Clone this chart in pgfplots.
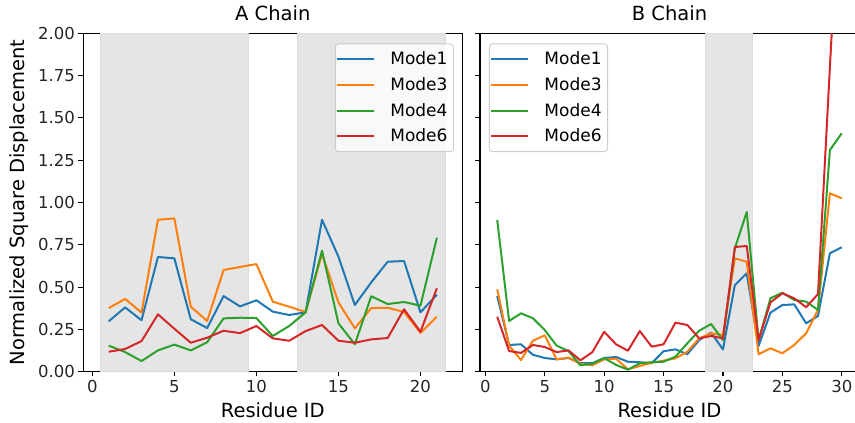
\documentclass[border=0pt]{standalone}
\usepackage{fontspec}
\setmainfont{DejaVu Sans}
\usepackage{pgfplots}
\usepackage{pgfplotstable}
\pgfplotsset{compat=1.18}
\definecolor{c1}{HTML}{1F77B4}
\definecolor{c3}{HTML}{FF7F0E}
\definecolor{c4}{HTML}{2CA02C}
\definecolor{c6}{HTML}{D62728}

\pgfplotstableread{
x m1 m3 m4 m6
1 0.298 0.376 0.154 0.118
2 0.380 0.430 0.116 0.134
3 0.304 0.349 0.063 0.181
4 0.678 0.898 0.126 0.339
5 0.670 0.906 0.160 0.254
6 0.310 0.384 0.126 0.171
7 0.258 0.300 0.174 0.201
8 0.447 0.601 0.315 0.242
9 0.386 0.619 0.319 0.228
10 0.422 0.636 0.317 0.270
11 0.355 0.414 0.211 0.197
12 0.335 0.384 0.270 0.183
13 0.351 0.353 0.351 0.240
14 0.898 0.696 0.715 0.276
15 0.680 0.410 0.286 0.183
16 0.394 0.256 0.162 0.171
17 0.528 0.376 0.446 0.191
18 0.650 0.378 0.400 0.199
19 0.654 0.353 0.412 0.369
20 0.351 0.229 0.390 0.236
21 0.455 0.325 0.792 0.493
}\chainA

\pgfplotstableread{
x m1 m3 m4 m6
1 0.447 0.487 0.897 0.325
2 0.158 0.154 0.300 0.122
3 0.162 0.069 0.345 0.111
4 0.100 0.183 0.316 0.158
5 0.081 0.215 0.246 0.146
6 0.073 0.073 0.154 0.116
7 0.081 0.083 0.122 0.126
8 0.050 0.046 0.038 0.067
9 0.050 0.038 0.047 0.115
10 0.081 0.073 0.081 0.236
11 0.087 0.077 0.040 0.162
12 0.059 0.014 0.012 0.124
13 0.056 0.034 0.050 0.240
14 0.050 0.053 0.056 0.148
15 0.121 0.065 0.059 0.162
16 0.132 0.079 0.089 0.290
17 0.103 0.118 0.168 0.276
18 0.187 0.197 0.242 0.197
19 0.231 0.227 0.282 0.211
20 0.132 0.217 0.187 0.197
21 0.512 0.670 0.729 0.737
22 0.581 0.650 0.944 0.743
23 0.152 0.103 0.187 0.187
24 0.349 0.138 0.434 0.410
25 0.394 0.109 0.467 0.463
26 0.398 0.158 0.424 0.434
27 0.286 0.227 0.414 0.381
28 0.329 0.365 0.365 0.459
29 0.700 1.054 1.310 1.800
30 0.735 1.025 1.409 3.100
}\chainB

\pgfplotsset{
  chainstyle/.style={
    scale only axis, width=379pt, height=338.4pt,
    ymin=0, ymax=2,
    ytick={0,0.25,0.5,0.75,1,1.25,1.5,1.75,2},
    axis line style={black, line width=1.1pt},
    tick align=outside, xtick pos=left, ytick pos=left,
    major tick length=4.8pt,
    tick style={black, line width=1.1pt},
    /pgf/number format/assume math mode=true,
    every tick label/.append style={font=\fontsize{16.5}{19.8}\selectfont, text=black!85},
    yticklabel style={/pgf/number format/fixed, /pgf/number format/fixed zerofill, /pgf/number format/precision=2},
    title style={font=\fontsize{19.5}{23}\selectfont, at={(axis description cs:0.5,1)}, anchor=base, yshift=6.6pt},
    xlabel style={font=\fontsize{19.5}{23}\selectfont, at={(axis description cs:0.5,-0.1368)}, anchor=base},
    ylabel style={font=\fontsize{19.5}{23}\selectfont, at={(axis description cs:-0.1546,0.5)}, anchor=base},
    legend style={font=\fontsize{17}{20}\selectfont, draw=black!20, rounded corners=3pt, fill=white, fill opacity=0.8, text opacity=1, draw opacity=1, line width=0.9pt,
      inner xsep=1pt, inner ysep=4pt, row sep=2.7pt, column sep=10pt,
      nodes={inner xsep=5pt, inner ysep=4pt, text depth=2pt}},
    legend cell align=left,
    legend image code/.code={\draw[#1, line width=2pt] (0pt,0pt) -- (37pt,0pt);},
    every axis plot/.append style={line width=2pt, line join=round},
    clip=true,
  },
  span/.style={fill=black!10, draw=black!14, line width=0.7pt, forget plot},
}

\begin{document}
\begin{tikzpicture}
\begin{axis}[chainstyle, at={(83.3pt,51.3pt)}, anchor=south west,
  xmin=-0.55, xmax=22.55, xtick={0,5,10,15,20},
  title={A Chain}, xlabel={Residue ID}, ylabel={Normalized Square Displacement},
  legend style={at={(axis description cs:0.978,0.970)}, anchor=north east}]
  \addplot[span] coordinates {(0.5,0) (0.5,2) (9.5,2) (9.5,0)} --cycle;
  \addplot[span] coordinates {(12.5,0) (12.5,2) (21.5,2) (21.5,0)} --cycle;
  \addplot[c1] table[x=x, y=m1] {\chainA};
  \addplot[c3] table[x=x, y=m3] {\chainA};
  \addplot[c4] table[x=x, y=m4] {\chainA};
  \addplot[c6] table[x=x, y=m6] {\chainA};
  \legend{Mode1,Mode3,Mode4,Mode6}
\end{axis}
\begin{axis}[chainstyle, at={(480pt,51.3pt)}, anchor=south west,
  xmin=-0.45, xmax=31.45, xtick={0,5,10,15,20,25,30},
  yticklabel={\mbox{}},
  title={B Chain}, xlabel={Residue ID},
  legend style={at={(axis description cs:0.0237,0.970)}, anchor=north west}]
  \addplot[span] coordinates {(18.5,0) (18.5,2) (22.5,2) (22.5,0)} --cycle;
  \addplot[c1] table[x=x, y=m1] {\chainB};
  \addplot[c3] table[x=x, y=m3] {\chainB};
  \addplot[c4] table[x=x, y=m4] {\chainB};
  \addplot[c6] table[x=x, y=m6] {\chainB};
  \legend{Mode1,Mode3,Mode4,Mode6}
\end{axis}
\pgfresetboundingbox
\useasboundingbox (0,0) rectangle (855pt,423pt);
\end{tikzpicture}
\end{document}
